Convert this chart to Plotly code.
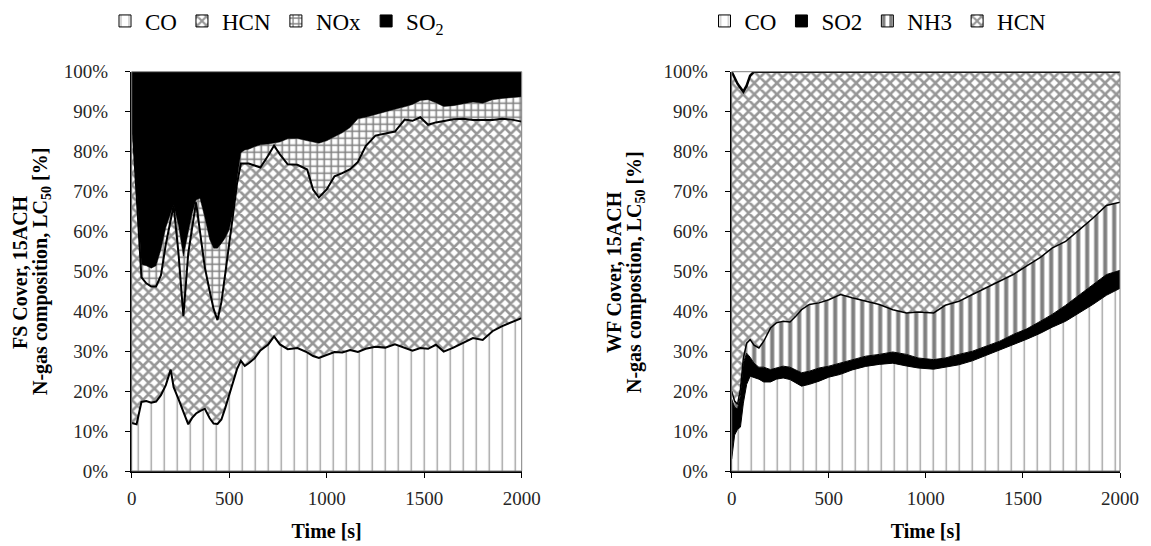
import plotly.graph_objects as go

# ---------------- data ----------------
# Left panel: FS Cover, 15ACH  (stack: CO, HCN, NOx, SO2)
t_fs = [0, 25, 50, 75, 100, 125, 150, 175, 200, 215, 240, 265, 290, 310, 330, 350, 375, 400,
        420, 440, 460, 480, 500, 520, 540, 560, 580, 600, 630, 660, 700, 730, 760, 800, 850, 900,
        930, 960, 1000, 1040, 1080, 1120, 1160, 1200, 1250, 1300, 1350, 1400, 1440, 1480, 1520,
        1560, 1600, 1650, 1700, 1750, 1800, 1850, 1900, 1950, 2000]
co_fs = [12, 11.7, 17.3, 17.5, 17.1, 17.4, 19.0, 21.5, 25.4, 21, 18, 15, 11.7, 13.3, 14.4, 15, 15.6, 13.2,
         11.9, 11.8, 12.9, 15.8, 19, 22.5, 25.5, 27.6, 26.3, 27, 28.2, 30.2, 31.7, 33.7, 31.7, 30.5, 30.8, 29.7,
         28.8, 28.3, 29.1, 29.8, 29.7, 30.3, 29.8, 30.6, 31.1, 30.9, 31.7, 30.7, 30.1, 30.8, 30.6,
         31.6, 29.9, 30.9, 32.1, 33.3, 32.8, 35, 36.3, 37.4, 38.3]
hcn_fs = [78, 58.3, 31.2, 29.5, 29.1, 28.8, 30, 35.3, 38.1, 45.5, 36.5, 23.8, 42.8, 47.2, 52.9, 45, 35.4, 31.8,
          28.7, 26, 29.4, 33.7, 37.5, 41.8, 46.5, 49.4, 50.7, 50, 48.3, 45.8, 47.3, 47.8, 47.6, 46.3, 45.9, 45.8,
          41.7, 40.2, 41.4, 44, 44.9, 45.3, 47.6, 50.8, 52.9, 53.6, 53.3, 57.3, 57.6, 57.8, 56.1,
          55.7, 57.8, 57.2, 56.1, 54.6, 55.1, 52.9, 51.9, 50.6, 49.2]
nox_fs = [0, 0, 3.2, 4.4, 4.6, 5.2, 6.5, 4.2, 1.0, 0.2, 7, 15, 5.3, 4, 0.6, 8.3, 12.5, 13,
          15.2, 18, 14.7, 8.9, 3.9, 0.7, 1, 2.7, 3.4, 3.6, 4.7, 5.7, 2.9, 0.6, 3.1, 6.4, 6.6, 7.2,
          11.9, 13.6, 12.2, 9.9, 10.1, 10.4, 10.8, 7.2, 5.3, 5.5, 5.6, 3.2, 4.1, 4.2, 6.3,
          4.9, 3.6, 3.4, 3.8, 4.5, 4.2, 5.1, 5.1, 5.5, 6.25]
so2_fs = [10, 30, 48.3, 48.6, 49.2, 48.6, 44.5, 39, 35.5, 33.3, 38.5, 46.25, 40.2, 35.5, 32.1, 31.7, 36.5, 42,
          44.2, 44.2, 43, 41.6, 39.6, 35, 27, 20.3, 19.6, 19.4, 18.8, 18.3, 18.1, 17.9, 17.6, 16.8, 16.7, 17.3,
          17.6, 17.9, 17.3, 16.3, 15.3, 14, 11.8, 11.4, 10.7, 10, 9.4, 8.8, 8.2, 7.2, 7,
          7.8, 8.7, 8.5, 8, 7.6, 7.9, 7, 6.7, 6.5, 6.25]

# Right panel: WF Cover, 15ACH  (stack: CO, SO2, NH3, HCN)
t_wf = [0, 15, 30, 45, 60, 77, 95, 115, 140, 165, 200, 230, 265, 300, 330, 360, 400, 450, 500, 560,
        620, 690, 760, 830, 900, 960, 1040, 1100, 1170, 1240, 1310, 1380, 1450, 1520, 1590, 1650,
        1720, 1790, 1860, 1930, 2000]
co_wf = [3, 9, 10.4, 11, 17, 21.7, 23.75, 23.5, 23, 22.3, 22.3, 23, 23.3, 22.9, 22, 21.25, 21.7, 22.5, 23.5, 24.2,
         25.3, 26.2, 26.7, 27, 26.3, 25.8, 25.5, 26, 26.6, 27.6, 28.9, 30.3, 31.7, 33, 34.5, 36,
         37.5, 39.5, 41.7, 44, 45.75]
so2_wf = [15, 7, 5.1, 8, 10, 7.8, 4.75, 3.5, 3, 3.7, 3.1, 2.8, 2.95, 3.1, 3.4, 3.35, 3.3, 3.3, 2.75, 2.9,
          2.6, 2.55, 2.5, 2.8, 2.9, 2.5, 2.4, 2.3, 2.6, 2.4, 2.35, 2.2, 2.5, 2.6, 3, 3.2,
          4, 4.5, 4.8, 5.2, 4.5]
nh3_wf = [2, 1.5, 1.2, 1.5, 1.3, 2.5, 4.4, 4.5, 4.8, 6.5, 10.4, 11.3, 11.25, 11.3, 13.35, 15.8, 16.7, 16.3, 16.65, 17.1,
          15.5, 13.75, 12.5, 10.6, 10.4, 11.5, 11.7, 13.2, 13.3, 14.2, 14.55, 15, 15, 15.8, 16, 16.6,
          16, 16.4, 16.8, 17.3, 17.05]
hcn_wf = [80, 81, 80.3, 75.5, 66.7, 64.5, 66.1, 68.5, 69.2, 67.5, 64.2, 62.9, 62.5, 62.7, 61.25, 59.6, 58.3, 57.9, 57.1, 55.8,
          56.6, 57.5, 58.3, 59.6, 60.4, 60.2, 60.4, 58.5, 57.5, 55.8, 54.2, 52.5, 50.8, 48.6, 46.5, 44.2,
          42.5, 39.6, 36.7, 33.5, 32.7]

x_ticks = [0, 500, 1000, 1500, 2000]
y_ticks = [0, 10, 20, 30, 40, 50, 60, 70, 80, 90, 100]
y_tick_text = ["0%", "10%", "20%", "30%", "40%", "50%", "60%", "70%", "80%", "90%", "100%"]

# ---------------- styles ----------------
FONT = "Liberation Serif"
W, H = 1151, 546

pat_co = dict(shape="|", fgcolor="#333333", bgcolor="white", size=13, solidity=0.1)
pat_hcn = dict(shape="x", fgcolor="#303030", bgcolor="white", size=8, solidity=0.55)
pat_nox = dict(shape="+", fgcolor="black", bgcolor="white", size=7, solidity=0.4)
pat_nh3 = dict(shape="|", fgcolor="black", bgcolor="white", size=9, solidity=0.45)

fig = go.Figure()


def area(x, y, group, xa, ya, pattern=None, fill_color="white", lw=1.5):
    kw = dict(x=x, y=y, stackgroup=group, mode="lines", showlegend=False,
              line=dict(color="black", width=lw), fillcolor=fill_color,
              xaxis=xa, yaxis=ya, hoverinfo="x+y")
    if pattern is not None:
        kw["fillpattern"] = pattern
    fig.add_trace(go.Scatter(**kw))


def key(name, xa, ya, leg, pattern=None, color="white"):
    # legend swatch (square box, like the reference legend)
    marker = dict(color=color, line=dict(color="black", width=1))
    if pattern is not None:
        marker["pattern"] = pattern
    fig.add_trace(go.Bar(x=[None], y=[None], name=name, marker=marker,
                         xaxis=xa, yaxis=ya, legend=leg, showlegend=True, hoverinfo="skip"))


# left panel
area(t_fs, co_fs, "fs", "x", "y", pat_co, lw=2)
area(t_fs, hcn_fs, "fs", "x", "y", pat_hcn, lw=2)
area(t_fs, nox_fs, "fs", "x", "y", pat_nox, lw=0.5)
area(t_fs, so2_fs, "fs", "x", "y", None, fill_color="black", lw=0)

# right panel
area(t_wf, co_wf, "wf", "x2", "y2", pat_co, lw=1)
area(t_wf, so2_wf, "wf", "x2", "y2", None, fill_color="black", lw=1)
area(t_wf, nh3_wf, "wf", "x2", "y2", pat_nh3, lw=1.5)
area(t_wf, hcn_wf, "wf", "x2", "y2", pat_hcn, lw=2.5)

key("CO", "x", "y", "legend", pat_co)
key("HCN", "x", "y", "legend", pat_hcn)
key("NOx", "x", "y", "legend", pat_nox)
key("SO<sub>2</sub>", "x", "y", "legend", None, "black")

key("CO", "x2", "y2", "legend2", pat_co)
key("SO2", "x2", "y2", "legend2", None, "black")
key("NH3", "x2", "y2", "legend2", pat_nh3)
key("HCN", "x2", "y2", "legend2", pat_hcn)

# ---------------- layout ----------------
def px_x(p):
    return p / W


def px_y(p):
    return 1 - p / H


y_dom = [px_y(471), px_y(71.7)]
xl_dom = [px_x(131.7), px_x(521.7)]
xr_dom = [px_x(731.7), px_x(1120)]

tick_font = dict(family=FONT, size=19, color="#262626")


def xaxis(domain, anchor, lw):
    return dict(domain=domain, anchor=anchor, range=[0, 2000], tickvals=x_ticks,
                ticks="outside", ticklen=5, tickwidth=1, tickcolor="black",
                showline=True, linecolor="black", linewidth=lw, showgrid=False, zeroline=False,
                tickfont=tick_font, ticklabelstandoff=4, layer="above traces", automargin=False,
                title=dict(text="<b>Time [s]</b>", font=dict(family=FONT, size=20, color="black"),
                           standoff=16))


def yaxis(anchor, lw):
    return dict(domain=y_dom, anchor=anchor, range=[0, 100], tickvals=y_ticks, ticktext=y_tick_text,
                ticks="outside", ticklen=5, tickwidth=1, tickcolor="black",
                showline=True, linecolor="black", linewidth=lw, showgrid=False, zeroline=False,
                tickfont=tick_font, ticklabelstandoff=13, layer="above traces", automargin=False)


legend_common = dict(orientation="h", yanchor="middle", xanchor="center",
                     font=dict(family=FONT, size=23, color="black"),
                     bgcolor="rgba(0,0,0,0)", itemwidth=30, traceorder="normal",
                     tracegroupgap=0, itemclick=False, itemdoubleclick=False)

fig.update_layout(
    width=W, height=H,
    margin=dict(l=0, r=0, t=0, b=0, autoexpand=False),
    paper_bgcolor="white", plot_bgcolor="white",
    font=dict(family=FONT, color="black"),
    showlegend=True,
    barmode="overlay",
    xaxis=xaxis(xl_dom, "y", 1.5),
    yaxis=yaxis("x", 1.5),
    xaxis2=xaxis(xr_dom, "y2", 2),
    yaxis2=yaxis("x2", 2),
    legend=dict(x=px_x(277), y=px_y(21), **legend_common),
    legend2=dict(x=px_x(878), y=px_y(21), **legend_common),
)

# plot-area frame (thin grey, as in the reference)
for xr, yr in (("x", "y"), ("x2", "y2")):
    fig.add_shape(type="rect", xref=xr + " domain", yref=yr + " domain", x0=0, x1=1, y0=0, y1=1,
                  line=dict(color="#7f7f7f", width=1), fillcolor="rgba(0,0,0,0)", layer="above")

# two-line bold y titles
title_font = dict(family=FONT, size=20, color="black")
ymid = px_y(272)
for xc, l1, l2 in ((20, "FS Cover, 15ACH", "N-gas composition, LC<sub>50</sub> [%]"),
                   (614, "WF Cover, 15ACH", "N-gas compostion, LC<sub>50</sub> [%]")):
    fig.add_annotation(x=px_x(xc), y=ymid, xref="paper", yref="paper", text="<b>" + l1 + "</b>",
                       textangle=-90, showarrow=False, font=title_font, xanchor="center", yanchor="middle")
    fig.add_annotation(x=px_x(xc + 21), y=ymid, xref="paper", yref="paper", text="<b>" + l2 + "</b>",
                       textangle=-90, showarrow=False, font=title_font, xanchor="center", yanchor="middle")

fig.write_html("out.html")
